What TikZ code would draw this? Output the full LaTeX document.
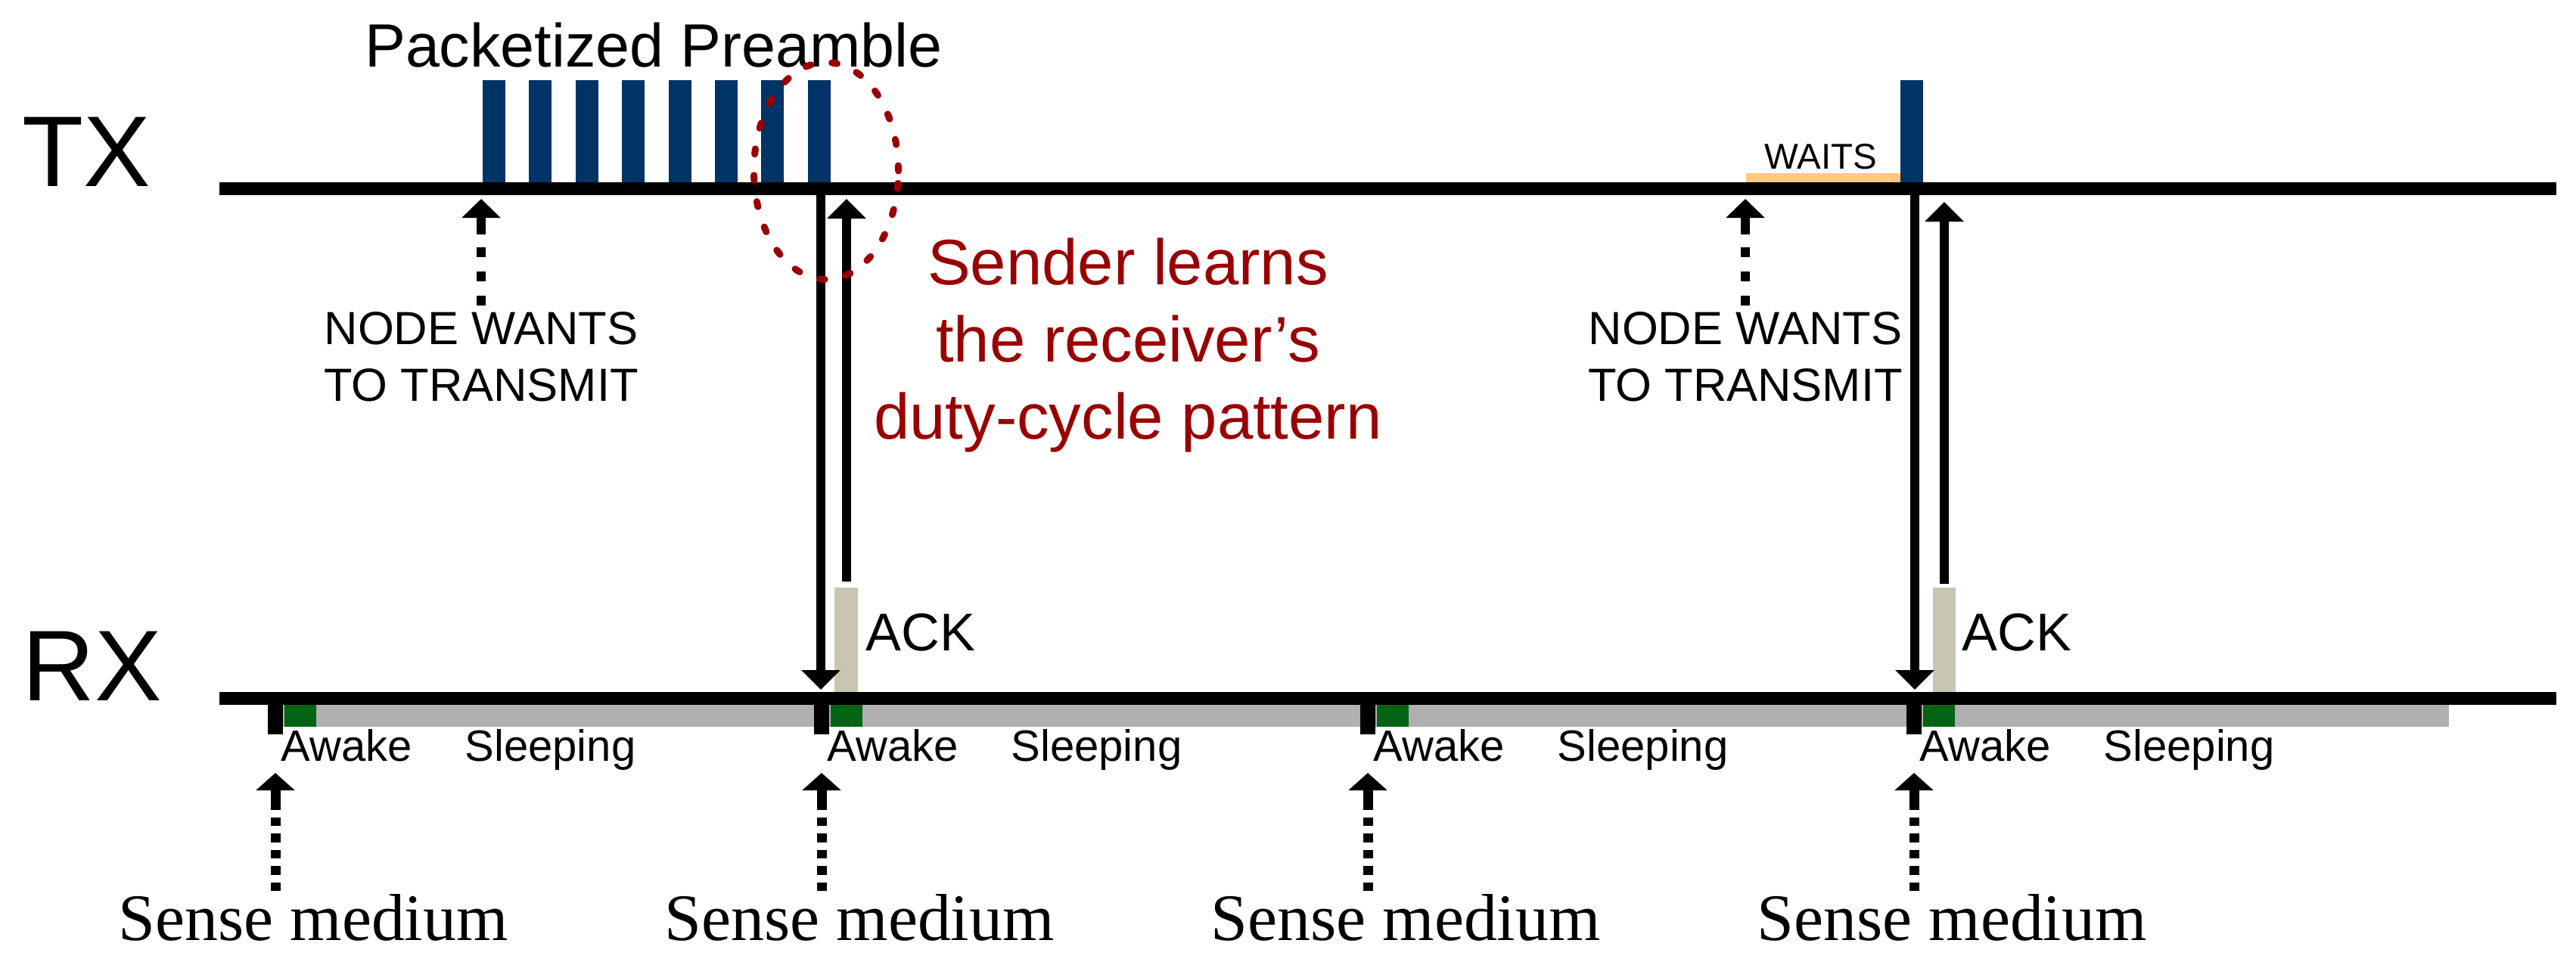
\documentclass[tikz,border=0pt]{standalone}
\usepackage{fontspec}
\setmainfont{Liberation Sans}
\newfontfamily\sensefont{Liberation Serif}
\usetikzlibrary{arrows.meta, positioning}
\definecolor{navyblue}{RGB}{0,51,102}
\definecolor{learnred}{RGB}{153,0,0}
\definecolor{awakegreen}{RGB}{0,100,20}
\definecolor{sleepgray}{RGB}{176,176,176}
\definecolor{ackbeige}{RGB}{200,197,176}
\definecolor{waitorange}{RGB}{255,201,130}

\begin{document}
\begin{tikzpicture}[
        timeline/.style={line width=0.17cm},
        msg/.style={draw, -{Triangle[width=0.5cm, length=0.26cm]}, line width=0.12cm},
        wantshint/.style={draw, {Triangle[width=0.5cm, length=0.25cm]}-, line width=0.12cm,
            dash pattern=on 0.24cm off 0.17cm on 0.125cm off 0.195cm on 0.125cm off 0.195cm on 0.125cm off 1cm},
        sensehint/.style={draw, {Triangle[width=0.5cm, length=0.23cm]}-, line width=0.13cm,
            dash pattern=on 0.27cm off 0.1cm on 0.115cm off 0.1cm on 0.115cm off 0.1cm on 0.115cm off 0.1cm on 0.115cm off 0.1cm on 0.115cm off 1cm},
        linename/.style={inner sep=0pt, anchor=base west, font=\fontsize{37.8}{40}\selectfont},
        wantsnote/.style={inner sep=0pt, anchor=north, align=center, font=\fontsize{17.5}{21.3}\selectfont},
        statetext/.style={inner sep=0pt, anchor=base west, font=\fontsize{16.5}{18}\selectfont},
        sensenote/.style={inner sep=0pt, anchor=base west, font=\sensefont\fontsize{25}{28}\selectfont},
        acktext/.style={inner sep=0pt, anchor=base west, font=\fontsize{20}{22}\selectfont}
        ]
        \useasboundingbox (0,0) rectangle (34.05,-12.76);

        % TX side: preamble, wait, data
        \foreach \i in {0,...,7}
            \fill[navyblue] ({6.38+0.614*\i},-1.06) rectangle ++(0.3,-1.37);
        \fill[waitorange] (23.08,-2.29) rectangle (25.12,-2.43);
        \fill[navyblue] (25.12,-1.06) rectangle (25.42,-2.43);

        % RX side: sleeping and awake periods
        \fill[sleepgray] (3.74,-9.32) rectangle (32.37,-9.61);
        \foreach \x in {3.64,10.86,18.08,25.30} {
            \fill[awakegreen] (\x+0.12,-9.32) rectangle ++(0.42,-0.29);
            \draw[line width=0.2cm] (\x,-9.24) -- (\x,-9.71);
        }

        % Timelines
        \draw[timeline] (2.9,-2.495) -- (33.79,-2.495);
        \draw[timeline] (2.9,-9.235) -- (33.79,-9.235);
        \coordinate (txbelow) at (0,-2.63);

        % ACK packets
        \fill[ackbeige] (11.03,-7.77) rectangle (11.34,-9.15);
        \fill[ackbeige] (25.55,-7.77) rectangle (25.85,-9.15);

        % Nodes
        \node (txlabel) [linename] at (0.29,-2.46) {TX};
        \node (rxlabel) [linename] at (0.29,-9.26) {RX};
        \node (preamble) [inner sep=0pt, anchor=base, font=\fontsize{23}{25}\selectfont] at (8.64,-0.88) {Packetized Preamble};
        \node (waits) [inner sep=0pt, anchor=base, font=\fontsize{13.5}{15}\selectfont] at (24.07,-2.23) {WAITS};
        \node (wants1) [wantsnote] at (6.36,-4.12) {NODE WANTS\\TO TRANSMIT};
        \node (wants2) [wantsnote] at (23.07,-4.12) {NODE WANTS\\TO TRANSMIT};
        \node (learns) [inner sep=0pt, anchor=north, align=center, text=learnred, font=\fontsize{24.2}{29}\selectfont] at (14.91,-3.14) {Sender learns\\the receiver’s\\duty-cycle pattern};
        \node (ack1) [acktext] at (11.44,-8.60) {ACK};
        \node (ack2) [acktext] at (25.93,-8.60) {ACK};
        \foreach \x [count=\n] in {3.64,10.86,18.08,25.30} {
            \node (awake\n) [statetext] at (\x+0.07,-10.06) {Awake};
            \node (sleep\n) [statetext] at (\x+2.5,-10.06) {Sleeping};
            \node (sense\n) [sensenote] at (\x-2.08,-12.43) {Sense medium};
            \coordinate (sensetip\n) at (\x,-10.22);
            \coordinate (sensefoot\n) at (\x,-11.83);
        }

        % Exchange points on the timelines
        \coordinate (req1top) at (10.85,-2.58);
        \coordinate (req1bot) at (10.85,-9.12);
        \coordinate (ack1top) at (11.19,-2.63);
        \coordinate (ack1bot) at (11.19,-7.69);
        \coordinate (req2top) at (25.31,-2.58);
        \coordinate (req2bot) at (25.31,-9.12);
        \coordinate (ack2top) at (25.70,-2.67);
        \coordinate (ack2bot) at (25.70,-7.72);

        % Arrows
        \draw [msg] (req1top) -- (req1bot);
        \draw [msg] (ack1bot) -- (ack1top);
        \draw [msg] (req2top) -- (req2bot);
        \draw [msg] (ack2bot) -- (ack2top);
        \draw [wantshint] (wants1.north |- txbelow) -- ([yshift=0.07cm]wants1.north);
        \draw [wantshint] (wants2.north |- txbelow) -- ([yshift=0.07cm]wants2.north);
        \foreach \n in {1,...,4}
            \draw [sensehint] (sensetip\n) -- (sensefoot\n);

        % Highlight of the last preamble packet
        \draw[learnred, line width=0.09cm, line cap=round, dash pattern=on 0.07cm off 0.28cm] (10.92,-2.26) ellipse [x radius=0.955, y radius=1.435];

    \end{tikzpicture}
\end{document}
